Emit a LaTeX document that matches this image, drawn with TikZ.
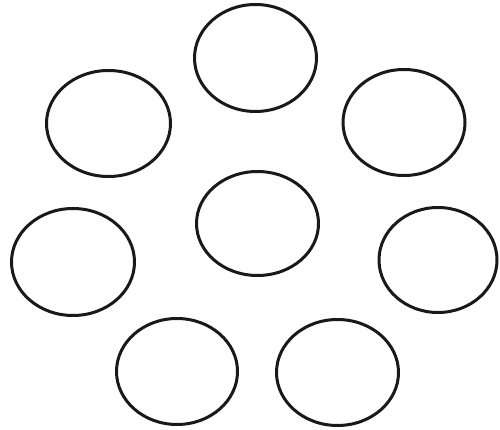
\documentclass[tikz,border=0pt]{standalone}
\usetikzlibrary{shapes.geometric}
\begin{document}
\begin{tikzpicture}[x=1pt,y=-1pt,
  ring/.style={draw=black!90, ellipse, line width=3pt, inner sep=0pt,
    minimum width=122pt, minimum height=106pt}]
\useasboundingbox (0,0) rectangle (500,430);
\node[ring, minimum width=122pt, minimum height=107pt] (top) at (255.5,58) {};
\node[ring, minimum width=124pt, minimum height=106pt] (ul) at (108.5,123.5) {};
\node[ring, minimum width=122pt, minimum height=106pt] (ur) at (404,122.5) {};
\node[ring, minimum width=122pt, minimum height=104pt] (mc) at (257.5,223.5) {};
\node[ring, minimum width=123pt, minimum height=107pt] (ml) at (73,262) {};
\node[ring, minimum width=118pt, minimum height=105pt] (mr) at (438,260) {};
\node[ring, minimum width=121pt, minimum height=106pt] (bl) at (177,371.5) {};
\node[ring, minimum width=122pt, minimum height=106pt] (br) at (337.5,372.5) {};
\end{tikzpicture}
\end{document}
